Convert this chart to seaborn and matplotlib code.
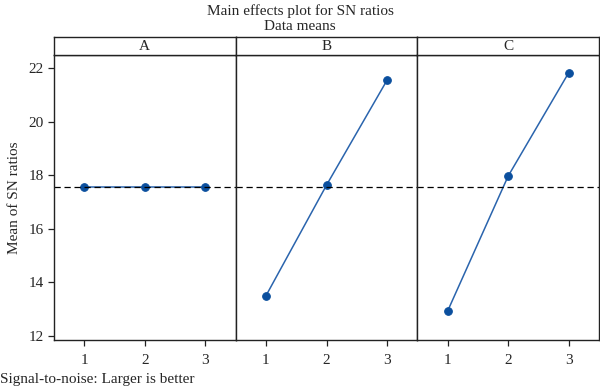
"""
Main effects plot for SN ratios (Taguchi style)
"""
import matplotlib
matplotlib.use("Agg")
import matplotlib.pyplot as plt
import seaborn as sns
import pandas as pd

sns.set_theme(style="white")
plt.rcParams['font.family'] = ['Liberation Serif', 'DejaVu Serif']
plt.rcParams['font.size'] = 11

# Data
factors = ["A", "B", "C"]
levels = [1, 2, 3]
sn_A = [17.58, 17.58, 17.58]
sn_B = [13.50, 17.63, 21.55]
sn_C = [12.93, 17.97, 21.83]
y_ticks = [12, 14, 16, 18, 20, 22]

df = pd.DataFrame({
    "factor": [f for f in factors for _ in levels],
    "level": levels * 3,
    "sn": sn_A + sn_B + sn_C,
})
grand_mean = df["sn"].mean()

W, H = 600, 388
fig = plt.figure(figsize=(W / 100, H / 100), dpi=100)

left, right = 54, 599
bottom, top, strip_top = 340, 55, 37
pw = (right - left) / 3

line_color = "#2a64ad"
dot_color = "#0b4f9e"
frame = "#222222"
fs = 11

for i, fac in enumerate(factors):
    x0 = left + i * pw
    ax = fig.add_axes([x0 / W, 1 - bottom / H, pw / W, (bottom - top) / H])
    sub = df[df["factor"] == fac]
    sns.lineplot(data=sub, x="level", y="sn", ax=ax, color=line_color,
                 linewidth=1.1, marker="o", markersize=5.5,
                 markerfacecolor=dot_color, markeredgecolor=dot_color)
    ax.axhline(grand_mean, color="black", linestyle=(0, (5, 3)), linewidth=0.9)
    ax.set_xlim(0.5, 3.5)
    ax.set_ylim(11.85, 22.49)
    ax.set_xticks(levels)
    ax.set_xlabel("")
    ax.set_ylabel("")
    ax.tick_params(axis="x", direction="out", length=4, width=0.9, color=frame,
                   bottom=True, pad=6, labelsize=fs)
    if i == 0:
        ax.set_yticks(y_ticks)
        ax.tick_params(axis="y", direction="out", length=4, width=0.9,
                       color=frame, left=True, labelsize=fs)
        ax.set_ylabel("Mean of SN ratios", fontsize=fs, labelpad=5)
    else:
        ax.set_yticks([])
    for s in ax.spines.values():
        s.set_color(frame)
        s.set_linewidth(1.0)

    # strip header
    sax = fig.add_axes([x0 / W, 1 - top / H, pw / W, (top - strip_top) / H])
    sax.set_xticks([])
    sax.set_yticks([])
    sax.set_facecolor("white")
    for s in sax.spines.values():
        s.set_color(frame)
        s.set_linewidth(1.0)
    sax.text(0.5, 0.45, fac, ha="center", va="center", fontsize=fs,
             transform=sax.transAxes)

fig.text(0.5, 1 - 11 / H, "Main effects plot for SN ratios", ha="center",
         va="center", fontsize=fs)
fig.text(0.5, 1 - 27 / H, "Data means", ha="center", va="center", fontsize=fs)
fig.text(0.0, 1 - 379 / H, "Signal-to-noise: Larger is better", ha="left",
         va="center", fontsize=fs)

fig.savefig("out.png", dpi=100, facecolor="white")
plt.close(fig)
